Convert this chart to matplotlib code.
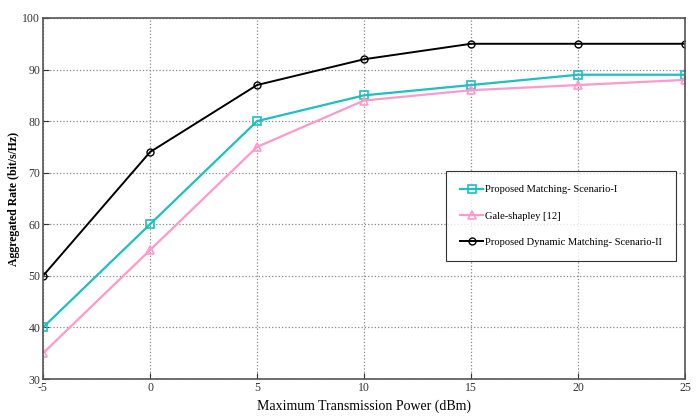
import matplotlib
matplotlib.use("Agg")
import matplotlib.pyplot as plt

power = [-5, 0, 5, 10, 15, 20, 25]
proposed_s1 = [40, 60, 80, 85, 87, 89, 89]
gale_shapley = [35, 55, 75, 84, 86, 87, 88]
dynamic_s2 = [50, 74, 87, 92, 95, 95, 95]

plt.rcParams['font.family'] = ['Liberation Serif', 'DejaVu Serif']
plt.rcParams['axes.unicode_minus'] = False

fig = plt.figure(figsize=(6.97, 4.17), dpi=100)
ax = fig.add_axes([43/697, 1 - 379/417, 642/697, 361/417])

ax.plot(power, proposed_s1, color='#1fbfbf', marker='s', markersize=6, mfc='none',
        mew=1.2, lw=1.6, label='Proposed Matching- Scenario-I')
ax.plot(power, gale_shapley, color='#ff99cc', marker='^', markersize=6, mfc='none',
        mew=1.2, lw=1.6, label='Gale-shapley [12]')
ax.plot(power, dynamic_s2, color='black', marker='o', markersize=5, mfc='none',
        mew=1.0, lw=1.4, label='Proposed Dynamic Matching- Scenario-II')

ax.set_xlim(-5, 25)
ax.set_ylim(30, 100)
ax.set_xticks(power)
ax.set_yticks(range(30, 101, 10))
ax.grid(True, linestyle=':', color='#888888', linewidth=0.9)
for s in ax.spines.values():
    s.set_color('#555555')
    s.set_linewidth(1.2)
ax.tick_params(direction='in', length=4, labelsize=8.5, colors='#333333', pad=2)

ax.set_xlabel('Maximum Transmission Power (dBm)', fontsize=10, labelpad=4)
ax.set_ylabel('Aggregated Rate (bit/s/Hz)', fontsize=8.5, fontweight='bold')
ax.yaxis.set_label_coords(-0.036, 0.5)

leg = ax.legend(loc='upper left', bbox_to_anchor=(0.62, 0.59), fontsize=7.6,
                frameon=True, fancybox=False, edgecolor='black', borderpad=1.3,
                labelspacing=1.6, handlelength=2.2, handletextpad=0.2)
leg.get_frame().set_linewidth(0.8)

fig.savefig('out.png', dpi=100)
